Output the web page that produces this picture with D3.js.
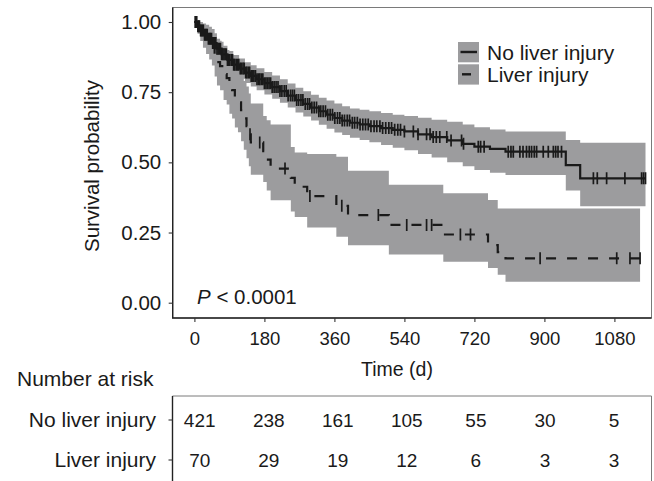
<!DOCTYPE html>
<html><head><meta charset="utf-8">
<script src="https://cdn.jsdelivr.net/npm/d3@7/dist/d3.min.js"></script>
<style>
body{margin:0;background:#fff}
svg{display:block}
text{font-family:"Liberation Sans",Arial,Helvetica,sans-serif;fill:#1a1a1a}
</style>
</head><body>
<svg id="chart" width="654" height="481"></svg>
<script>
// ---------------- data ----------------
const xTicks = [0, 180, 360, 540, 720, 900, 1080];
const xTickLabels = ["0", "180", "360", "540", "720", "900", "1080"];
const yTicks = [0, 0.25, 0.5, 0.75, 1];
const yTickLabels = ["0.00", "0.25", "0.50", "0.75", "1.00"];
const groups = ["No liver injury", "Liver injury"];

// No liver injury: KM step curve
const noTimes = [0, 8, 16, 25, 35, 45, 57, 70, 85, 100, 115, 130, 145, 160, 180, 200, 220, 240, 260, 280, 300, 320, 340, 360, 380, 400, 425, 450, 480, 510, 540, 575, 610, 650, 690, 720, 760, 800, 955, 992];
const noSurv  = [1.0, 0.985, 0.97, 0.955, 0.94, 0.925, 0.905, 0.885, 0.865, 0.848, 0.834, 0.82, 0.808, 0.796, 0.782, 0.768, 0.754, 0.738, 0.722, 0.708, 0.695, 0.682, 0.67, 0.658, 0.649, 0.641, 0.635, 0.629, 0.622, 0.616, 0.61, 0.6, 0.59, 0.578, 0.566, 0.556, 0.548, 0.538, 0.49, 0.443];
const noUpper = [1.0, 0.997, 0.987, 0.975, 0.963, 0.951, 0.933, 0.915, 0.897, 0.882, 0.87, 0.857, 0.846, 0.835, 0.822, 0.809, 0.796, 0.781, 0.766, 0.753, 0.741, 0.73, 0.72, 0.71, 0.7, 0.692, 0.687, 0.682, 0.676, 0.67, 0.665, 0.659, 0.652, 0.645, 0.635, 0.625, 0.617, 0.61, 0.58, 0.57];
const noLower = [1.0, 0.973, 0.953, 0.935, 0.917, 0.899, 0.877, 0.855, 0.833, 0.814, 0.798, 0.783, 0.77, 0.757, 0.742, 0.727, 0.712, 0.695, 0.678, 0.663, 0.649, 0.634, 0.62, 0.606, 0.597, 0.588, 0.58, 0.572, 0.562, 0.552, 0.543, 0.53, 0.517, 0.5, 0.486, 0.473, 0.463, 0.455, 0.40, 0.344];
const noEnd = 1160;
const noCensor = [2, 4, 6, 9, 11, 13, 16, 18, 21, 23, 26, 28, 31, 33, 36, 39, 41, 44, 47, 49, 52, 55, 58, 61, 64, 67, 70, 73, 76, 79, 82, 85, 88, 91, 95, 98, 101, 104, 108, 111, 114, 118, 121, 125, 128, 132, 135, 139, 142, 146, 150, 153, 157, 161, 165, 168, 172, 176, 180, 184, 188, 192, 196, 200,
  205, 210, 215, 220, 225, 231, 236, 241, 247, 252, 257, 263, 268, 274, 279, 285, 291, 296, 302, 308, 314, 320, 325, 331, 337, 343, 349, 355, 361, 368, 374, 380, 386, 393, 399, 406, 412, 419, 426, 433, 440, 447, 454, 462, 469, 477, 484, 492, 500, 507, 515, 523, 530,
  540, 563, 575, 597, 606, 614, 622, 631, 649, 660, 687, 692, 730, 736, 745, 807, 814, 820, 837, 845, 854, 861, 867, 874, 880, 897, 910, 923, 929, 935, 944, 1026, 1036, 1060, 1107, 1150, 1155, 1160];

// Liver injury: KM step curve
const livTimes = [0, 8, 15, 22, 30, 38, 45, 52, 58, 66, 75, 83, 90, 97, 104, 112, 120, 127, 134, 140, 145, 177, 186, 196, 248, 258, 290, 365, 395, 500, 640, 755, 780, 800];
const livSurv  = [1.0, 0.986, 0.971, 0.957, 0.943, 0.929, 0.914, 0.886, 0.857, 0.843, 0.814, 0.8, 0.771, 0.757, 0.729, 0.714, 0.686, 0.657, 0.629, 0.6, 0.571, 0.54, 0.51, 0.478, 0.445, 0.413, 0.38, 0.345, 0.312, 0.277, 0.243, 0.205, 0.18, 0.158];
const livUpper = [1.0, 1.0, 1.0, 0.995, 0.99, 0.983, 0.975, 0.96, 0.94, 0.93, 0.91, 0.9, 0.88, 0.87, 0.85, 0.84, 0.82, 0.79, 0.77, 0.745, 0.71, 0.665, 0.65, 0.635, 0.555, 0.535, 0.53, 0.52, 0.47, 0.42, 0.39, 0.366, 0.336, 0.336];
const livLower = [1.0, 0.958, 0.932, 0.908, 0.886, 0.866, 0.845, 0.806, 0.774, 0.757, 0.722, 0.706, 0.673, 0.656, 0.624, 0.607, 0.575, 0.545, 0.515, 0.486, 0.456, 0.43, 0.4, 0.365, 0.325, 0.305, 0.268, 0.235, 0.205, 0.172, 0.146, 0.124, 0.1, 0.075];
const livEnd = 1146;
const livCensor = [143, 168, 233, 297, 379, 473, 546, 597, 610, 684, 710, 889, 1086, 1120, 1146];

// Number at risk table
const riskTimes = [0, 180, 360, 540, 720, 900, 1080];
const riskNo    = [421, 238, 161, 105, 55, 30, 5];
const riskLiver = [70, 29, 19, 12, 6, 3, 3];

// ---------------- layout ----------------
const svg = d3.select("#chart");
const P = {left: 172.7, right: 651.5, top: 7.5, bottom: 318};
const x = d3.scaleLinear().domain([0, 1080]).range([194.4, 614.4]);
const y = d3.scaleLinear().domain([0, 1]).range([302.7, 22]);
const BAND = "#9c9c9e", INK = "#1a1a1a";
const FONT = '"Liberation Sans",Arial,sans-serif';

svg.append("defs").append("clipPath").attr("id", "clip")
  .append("rect").attr("x", P.left).attr("y", P.top)
  .attr("width", P.right - P.left).attr("height", P.bottom - P.top);

function rows(times, s, up, lo, end) {
  const r = times.map((t, i) => ({t, s: s[i], hi: up[i], lo: lo[i]}));
  const last = r[r.length - 1];
  r.push({t: end, s: last.s, hi: last.hi, lo: last.lo});
  return r;
}
function survAt(times, s, t) {
  const i = d3.bisectRight(times, t) - 1;
  return s[Math.max(0, i)];
}

const noRows = rows(noTimes, noSurv, noUpper, noLower, noEnd);
const livRows = rows(livTimes, livSurv, livUpper, livLower, livEnd);

const g = svg.append("g").attr("clip-path", "url(#clip)");
const area = d3.area().curve(d3.curveStepAfter)
  .x(d => x(d.t)).y0(d => y(d.lo)).y1(d => y(d.hi));
const line = d3.line().curve(d3.curveStepAfter).x(d => x(d.t)).y(d => y(d.s));

g.append("path").datum(noRows).attr("d", area).attr("fill", BAND);
g.append("path").datum(livRows).attr("d", area).attr("fill", BAND);

g.append("path").datum(noRows).attr("d", line)
  .attr("fill", "none").attr("stroke", INK).attr("stroke-width", 2.2);
g.append("path").datum(livRows).attr("d", line)
  .attr("fill", "none").attr("stroke", INK).attr("stroke-width", 2.2)
  .attr("stroke-dasharray", "10,11");

function censor(cls, list, times, surv) {
  g.selectAll("." + cls).data(list).enter().append("line").attr("class", cls)
    .attr("x1", d => x(d)).attr("x2", d => x(d))
    .attr("y1", d => y(survAt(times, surv, d)) - 6)
    .attr("y2", d => y(survAt(times, surv, d)) + 6)
    .attr("stroke", INK).attr("stroke-width", 1.7);
}
censor("cn", noCensor, noTimes, noSurv);
censor("cl", livCensor, livTimes, livSurv);

// panel border
svg.append("rect").attr("x", P.left).attr("y", P.top)
  .attr("width", P.right - P.left).attr("height", P.bottom - P.top)
  .attr("fill", "none").attr("stroke", "#7a7a7a").attr("stroke-width", 1);
svg.append("path").attr("d", `M${P.left},${P.top}V${P.bottom}H${P.right}`)
  .attr("fill", "none").attr("stroke", "#222").attr("stroke-width", 1.4);

// axes
const yAxis = d3.axisLeft(y).tickValues(yTicks).tickFormat((d, i) => yTickLabels[i])
  .tickSize(4).tickPadding(7.5);
const ya = svg.append("g").attr("transform", `translate(${P.left},0)`).call(yAxis);
ya.select(".domain").remove();
ya.selectAll("line").attr("stroke", "#333").attr("stroke-width", 1.1);
ya.selectAll("text").style("font-size", "20.5px").attr("fill", INK).style("font-family", FONT);

const xAxis = d3.axisBottom(x).tickValues(xTicks).tickFormat((d, i) => xTickLabels[i])
  .tickSize(4).tickPadding(10);
const xa = svg.append("g").attr("transform", `translate(0,${P.bottom})`).call(xAxis);
xa.select(".domain").remove();
xa.selectAll("line").attr("stroke", "#333").attr("stroke-width", 1.1);
xa.selectAll("text").style("font-size", "18.5px").attr("fill", INK).style("font-family", FONT);

// axis titles
svg.append("text").attr("transform", "translate(99,166) rotate(-90)")
  .attr("text-anchor", "middle").style("font-size", "20.5px").text("Survival probability");
svg.append("text").attr("x", 397).attr("y", 376).attr("text-anchor", "middle")
  .style("font-size", "19.5px").text("Time (d)");

// p-value
const pt = svg.append("text").attr("x", 197).attr("y", 304).style("font-size", "20.5px");
pt.append("tspan").style("font-style", "italic").text("P");
pt.append("tspan").text(" < 0.0001");

// legend
const lg = svg.append("g");
groups.forEach((name, i) => {
  const ky = 42 + i * 22.3;
  lg.append("rect").attr("x", 458).attr("y", ky).attr("width", 21).attr("height", 20.3).attr("fill", BAND);
  lg.append("line").attr("x1", i ? 462 : 460.5).attr("x2", i ? 471 : 477)
    .attr("y1", ky + 10).attr("y2", ky + 10).attr("stroke", INK).attr("stroke-width", 2.4);
  lg.append("text").attr("x", 487).attr("y", ky + 17.5).style("font-size", "21px").text(name);
});

// risk table
svg.append("text").attr("x", 17).attr("y", 386).style("font-size", "21px").text("Number at risk");
const tx = d3.scaleLinear().domain([0, 1080]).range([199.7, 614]);
const T = {left: 172.5, top: 396, right: 651.5};
svg.append("path").attr("d", `M${T.left},490V${T.top}H${T.right}V490`)
  .attr("fill", "none").attr("stroke", "#7a7a7a").attr("stroke-width", 1);
svg.append("line").attr("x1", T.left).attr("x2", T.left).attr("y1", T.top).attr("y2", 490)
  .attr("stroke", "#222").attr("stroke-width", 1.4);
const rowY = [420, 460];
[riskNo, riskLiver].forEach((vals, r) => {
  svg.append("line").attr("x1", T.left - 4).attr("x2", T.left).attr("y1", rowY[r]).attr("y2", rowY[r])
    .attr("stroke", "#333").attr("stroke-width", 1.1);
  svg.append("text").attr("x", 156).attr("y", rowY[r] + 7).attr("text-anchor", "end")
    .style("font-size", "21px").text(groups[r]);
  svg.selectAll(null).data(vals).enter().append("text")
    .attr("x", (d, i) => tx(riskTimes[i])).attr("y", rowY[r] + 7)
    .attr("text-anchor", "middle").style("font-size", "19px").text(d => d);
});
</script>
</body></html>
